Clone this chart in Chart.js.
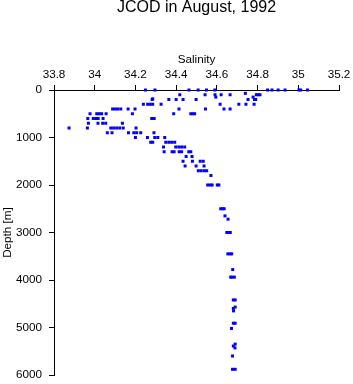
<!DOCTYPE html>
<html><head><meta charset="utf-8">
<style>html,body{margin:0;padding:0;background:#fff}#wrap{width:353px;height:384px}</style>
<script src="https://cdn.jsdelivr.net/npm/chart.js@4/dist/chart.umd.min.js"></script>
</head><body><div id="wrap"><canvas id="c" width="353" height="384"></canvas></div>
<script>
const chartTitle = 'JCOD in August, 1992';
const xTitle = 'Salinity';
const yTitle = 'Depth [m]';
const xTicks = [33.8, 34, 34.2, 34.4, 34.6, 34.8, 35, 35.2];
const yTicks = [0, 1000, 2000, 3000, 4000, 5000, 6000];

const depth = [
  0,0,0,0,0,0,0,0,0,0,0,0,0,
  70,
  100,100,100,100,100,100,100,100,
  150,150,
  185,
  200,200,200,200,200,200,200,200,
  300,300,300,300,300,300,300,300,300,
  400,400,400,400,400,400,400,400,400,400,
  500,500,500,500,500,500,500,500,500,500,
  600,600,600,600,600,600,600,
  700,700,700,700,700,
  800,800,800,800,800,800,800,800,
  900,900,900,900,900,900,900,
  1000,1000,1000,1000,1000,
  1100,1100,1100,1100,1100,1100,
  1200,1200,1200,1200,1200,
  1300,1300,1300,1300,1300,1300,1300,
  1400,1400,
  1500,1500,1500,1500,
  1600,1600,1600,
  1700,1700,1700,1700,
  1800,
  2000,2000,2000,2000,2000,
  2500,2500,2500,
  2650,
  2720,
  3000,3000,3000,
  3450,3450,3450,
  3780,
  3940,3940,3940,
  4420,4420,
  4570,
  4600,
  4650,
  4910,4910,
  5020,
  5350,
  5390,
  5430,
  5600,
  5880,5880
];
const salinity = [
  34.249,34.296,34.463,34.508,34.549,34.59,34.849,34.871,34.901,34.935,35.003,35.012,35.045,
  34.74,
  34.418,34.542,34.591,34.621,34.665,34.794,34.803,34.812,
  34.595,34.778,
  34.285,
  34.282,34.364,34.4,34.434,34.498,34.753,34.785,34.791,
  34.239,34.26,34.273,34.285,34.326,34.616,34.708,34.743,34.783,
  34.088,34.101,34.113,34.128,34.164,34.198,34.414,34.544,34.635,34.665,
  33.977,34.01,34.022,34.034,34.056,34.185,34.388,34.472,34.482,34.491,
  33.966,33.993,34.005,34.017,34.041,34.28,34.292,
  33.969,34.016,34.039,34.054,34.136,
  33.874,33.964,34.079,34.093,34.108,34.123,34.14,34.203,
  34.062,34.085,34.166,34.192,34.206,34.226,34.291,
  34.2,34.259,34.295,34.31,34.344,
  34.275,34.285,34.349,34.364,34.378,34.393,
  34.338,34.398,34.413,34.427,34.442,
  34.341,34.38,34.39,34.415,34.427,34.462,34.472,
  34.449,34.478,
  34.434,34.48,34.518,34.533,
  34.444,34.498,34.537,
  34.509,34.523,34.538,34.55,
  34.571,
  34.555,34.568,34.577,34.602,34.61,
  34.619,34.628,34.636,
  34.64,
  34.655,
  34.649,34.658,34.666,
  34.654,34.664,34.673,
  34.678,
  34.668,34.675,34.686,
  34.681,34.69,
  34.69,
  34.681,
  34.682,
  34.681,34.69,
  34.672,
  34.69,
  34.681,
  34.689,
  34.677,
  34.677,34.69
];

const FONT = 'Liberation Sans, Arial, Helvetica, sans-serif';
const points = salinity.map((s, i) => ({x: s, y: depth[i]}));

new Chart(document.getElementById('c'), {
  type: 'scatter',
  data: { datasets: [{
    data: points,
    pointStyle: 'rect',
    radius: 2.12,
    backgroundColor: '#0000ff',
    borderWidth: 0,
    clip: false
  }]},
  options: {
    responsive: false,
    animation: false,
    devicePixelRatio: 1,
    layout: { padding: { left: 0, right: 14, top: 0, bottom: 9 } },
    plugins: {
      legend: { display: false },
      tooltip: { enabled: false },
      title: {
        display: true, text: chartTitle, color: '#000', fullSize: false,
        font: { family: FONT, size: 16, weight: 'normal', lineHeight: 1 },
        padding: { top: 0, bottom: 0 }
      }
    },
    scales: {
      x: {
        type: 'linear', position: 'top', min: 33.8, max: 35.2,
        afterBuildTicks: s => { s.ticks = xTicks.map(v => ({ value: v })); },
        afterFit: s => { s.height = 74; s.paddingLeft = 0; s.paddingRight = 0; },
        grid: { display: true, drawOnChartArea: false, drawTicks: true, tickLength: 5, color: '#000', lineWidth: 1 },
        border: { display: true, color: '#000', width: 1 },
        ticks: { color: '#000', padding: 3, maxRotation: 0, autoSkip: false,
          font: { family: FONT, size: 11.7 },
          callback: v => String(+(+v).toFixed(1)) },
        title: { display: true, text: xTitle, color: '#000',
          font: { family: FONT, size: 11.7 }, padding: { top: 37, bottom: 0 } }
      },
      y: {
        type: 'linear', position: 'left', reverse: true, min: 0, max: 6000,
        afterBuildTicks: s => { s.ticks = yTicks.map(v => ({ value: v })); },
        afterFit: s => { s.width = 54; s.paddingTop = 0; s.paddingBottom = 0; },
        grid: { display: true, drawOnChartArea: false, drawTicks: true, tickLength: 5, color: '#000', lineWidth: 1 },
        border: { display: true, color: '#000', width: 1 },
        ticks: { color: '#000', padding: 7, autoSkip: false,
          font: { family: FONT, size: 11.7 },
          callback: v => String(v) },
        title: { display: true, text: yTitle, color: '#000',
          font: { family: FONT, size: 11.7 }, padding: { top: 1, bottom: 0 } }
      }
    }
  }
});
</script>
</body></html>
